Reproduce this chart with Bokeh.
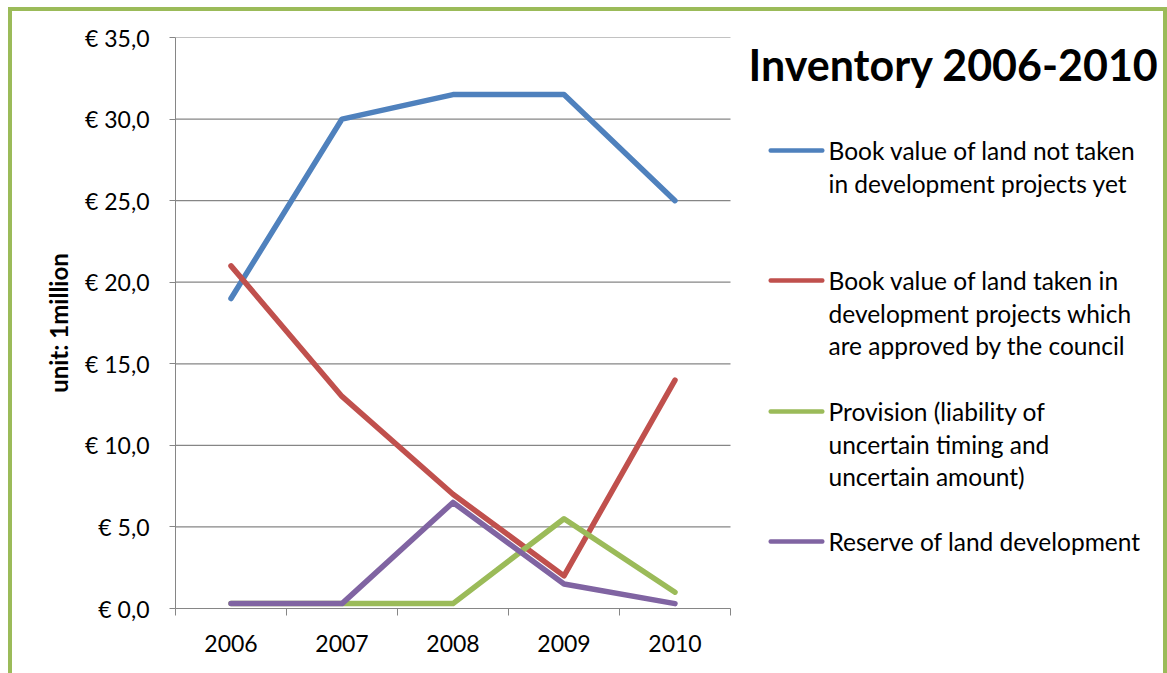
from bokeh.plotting import figure
from bokeh.models import Range1d, FixedTicker, LinearAxis, Label, BoxAnnotation
from bokeh.embed import file_html
from bokeh.resources import INLINE

years = ["2006", "2007", "2008", "2009", "2010"]
book_not_taken = [19.0, 30.0, 31.5, 31.5, 25.0]
book_taken = [21.0, 13.0, 7.0, 2.0, 14.0]
provision = [0.3, 0.3, 0.3, 5.5, 1.0]
reserve = [0.3, 0.3, 6.5, 1.5, 0.3]
y_ticks = [0, 5, 10, 15, 20, 25, 30, 35]

series = [
    (book_not_taken, "#4F81BD", ["Book value of land not taken", "in development projects yet"]),
    (book_taken, "#C0504D", ["Book value of land taken in", "development projects which", "are approved by the council"]),
    (provision, "#9BBB59", ["Provision (liability of", "uncertain timing and", "uncertain amount)"]),
    (reserve, "#8064A2", ["Reserve of land development"]),
]

FONT = "Lato"
W, H = 1167, 673
FL, FT, FB = 175, 37, 608   # frame edges (canvas px)
PR = 730                     # right edge of the plotting area (canvas px)
n = len(years)
x_end = n * (W - FL) / (PR - FL)   # frame extends to the right edge; categories occupy [0, n]

p = figure(width=W, height=H, output_backend="svg", toolbar_location=None,
           x_range=Range1d(0, x_end), y_range=Range1d(0, 35),
           x_axis_type=None, y_axis_type=None,
           min_border_left=FL, min_border_right=0, min_border_top=FT, min_border_bottom=H - FB)
p.outline_line_color = None
p.background_fill_color = None
p.border_fill_color = None
p.styles = {"box-shadow": "inset 8px 7px 0 0 #ffffff, inset 12px 11px 0 0 #9BBB59, inset -4px 0 0 0 #9BBB59",
            "background-color": "#ffffff"}

xs = [i + 0.5 for i in range(n)]

def fx(cx):
    return cx - FL

def fy(cy):
    return FB - cy

# axes
yax = LinearAxis(ticker=FixedTicker(ticks=y_ticks, minor_ticks=[]))
yax.major_label_overrides = {t: ("€ %.1f" % t).replace(".", ",") for t in y_ticks}
yax.axis_line_color = "#868686"
yax.major_tick_line_color = "#868686"
yax.major_tick_in = 0
yax.major_tick_out = 6
yax.minor_tick_line_color = None
yax.major_label_text_font = FONT
yax.major_label_text_font_size = "23px"
yax.major_label_text_color = "black"
yax.major_label_standoff = 20
yax.axis_label = "unit: 1million"
yax.axis_label_text_font = FONT
yax.axis_label_text_font_style = "bold"
yax.axis_label_text_font_size = "24px"
yax.axis_label_text_color = "black"
yax.axis_label_standoff = 9
p.add_layout(yax, "left")

xax = LinearAxis(ticker=FixedTicker(ticks=xs, minor_ticks=list(range(n + 1))), bounds=(0, n))
xax.major_label_overrides = {x: y for x, y in zip(xs, years)}
xax.axis_line_color = "#868686"
xax.major_tick_line_color = None
xax.minor_tick_line_color = "#868686"
xax.minor_tick_in = 0
xax.minor_tick_out = 7
xax.major_label_text_font = FONT
xax.major_label_text_font_size = "23px"
xax.major_label_text_color = "black"
xax.major_label_standoff = 19
p.add_layout(xax, "below")

# horizontal grid lines across the category area only
p.xgrid.grid_line_color = None
p.ygrid.grid_line_color = None
p.segment(x0=[0] * len(y_ticks), x1=[n] * len(y_ticks), y0=y_ticks, y1=y_ticks,
          line_color="#868686", line_width=1.2)

for vals, color, _ in series:
    p.line(xs, vals, line_color=color, line_width=5.5, line_cap="round", line_join="round")

# title
p.add_layout(Label(x=fx(748), y=fy(64), x_units="screen", y_units="screen",
                   text="Inventory 2006-2010", text_font=FONT, text_font_style="bold",
                   text_font_size="43px", text_color="black", text_baseline="middle"))

# legend
item_tops = [150, 280, 411, 541]
line_h = 32.5
for (vals, color, lines), ytop in zip(series, item_tops):
    p.add_layout(BoxAnnotation(left=fx(768), right=fx(824), top=fy(ytop - 2.3), bottom=fy(ytop + 2.3),
                               left_units="screen", right_units="screen",
                               top_units="screen", bottom_units="screen",
                               fill_color=color, fill_alpha=1, line_color=None, border_radius=2))
    for k, t in enumerate(lines):
        p.add_layout(Label(x=fx(828), y=fy(ytop + k * line_h), x_units="screen", y_units="screen",
                           text=t, text_font=FONT, text_font_size="24.5px", text_color="black",
                           text_baseline="middle"))

open("out.html", "w").write(file_html(p, INLINE))
